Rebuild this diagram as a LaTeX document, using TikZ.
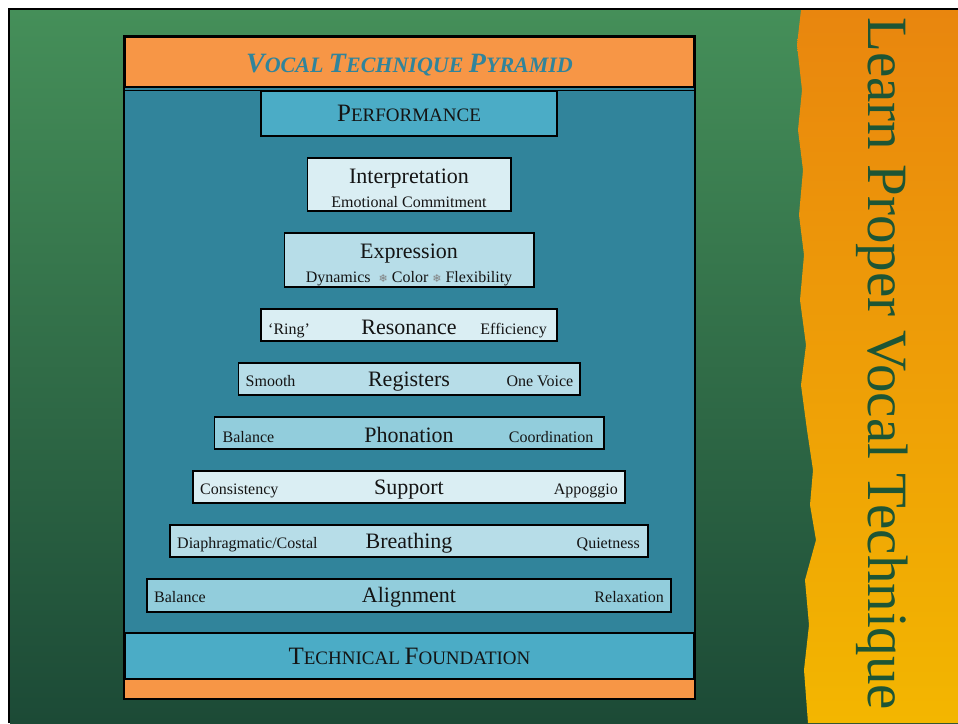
\documentclass[tikz,border=0pt]{standalone}
\usepackage{fontspec}
\setmainfont{Liberation Serif}
\newfontfamily\symfont{DejaVu Sans}
\usetikzlibrary{positioning}

\definecolor{slidetop}{HTML}{458F59}
\definecolor{slidebot}{HTML}{1C4A36}
\definecolor{stripetop}{HTML}{E9860E}
\definecolor{stripebot}{HTML}{F3B600}
\definecolor{leafgreen}{HTML}{1D5535}
\definecolor{accent}{HTML}{F79646}
\definecolor{deepteal}{HTML}{31849B}
\definecolor{midteal}{HTML}{4BACC6}
\definecolor{paleA}{HTML}{DAEEF3}
\definecolor{paleB}{HTML}{B7DDE8}
\definecolor{paleC}{HTML}{92CDDC}
\definecolor{ink}{HTML}{141414}

\newcommand{\tierfont}{\fontsize{22}{24}\selectfont}
\newcommand{\notefont}{\fontsize{16}{18}\selectfont}
\newcommand{\capsc}[2]{{\fontsize{25}{28}\selectfont #1}{\fontsize{19}{22}\selectfont #2}}
\newcommand{\titlesc}[2]{{\fontsize{28}{30}\selectfont #1}{\fontsize{22}{24}\selectfont #2}}
\newcommand{\flake}{{\symfont\color{gray}\fontsize{11}{11}\selectfont ❄}}

\tikzset{
	tier/.style={draw=black, line width=1.6pt, inner sep=0pt, text=ink, font=\tierfont, minimum height=32.4pt},
	note/.style={inner sep=0pt, text=ink, font=\notefont},
	band/.style={draw=black, line width=1.6pt, inner sep=0pt, text=ink, minimum width=569.4pt},
}

\begin{document}
\begin{tikzpicture}[x=1pt, y=-1pt, node distance=20pt]
	\useasboundingbox (0,0) rectangle (958,723);
	\fill[white] (0,0) rectangle (958,723);
	\shade[top color=slidetop, bottom color=slidebot] (10,10) rectangle (958,723);
	\shade[top color=stripetop, bottom color=stripebot]
		(801,10) -- (797,45) -- (802,90) -- (798,130) -- (803,170) -- (799,215) -- (804,255)
		-- (800,300) -- (806,345) -- (801,385) -- (807,430) -- (813,470) -- (810,505)
		-- (816,540) -- (805,580) -- (809,625) -- (804,670) -- (808,723) -- (958,723) -- (958,10) -- cycle;
	\draw[line width=2pt] (9,723) -- (9,9) -- (958,9);

	\node[rotate=-90, anchor=base west, inner sep=0pt, text=leafgreen,
		font=\fontsize{57}{60}\selectfont] (motto) at (868,17) {Learn Proper Vocal Technique};

	\fill[deepteal] (124,88) rectangle (695,632);
	\node[band, fill=accent, minimum height=50.4pt, text=deepteal, font=\bfseries\itshape] (title)
		at (409.5,62) {\rule{0pt}{24pt}\titlesc{V}{OCAL\ }\titlesc{T}{ECHNIQUE\ }\titlesc{P}{YRAMID}};
	\draw[line width=1pt] (124,90) -- (695,90);

	\node[tier, fill=midteal, minimum width=296.4pt, minimum height=45.4pt] (perf) at (409,113.5) {\capsc{P}{ERFORMANCE}};
	\node[tier, fill=paleA, minimum width=203.4pt, minimum height=53.4pt, align=center,
		below=of perf] (interp) {\rule{0pt}{22pt}Interpretation\\{\notefont Emotional Commitment}};
	\node[tier, fill=paleB, minimum width=249.4pt, minimum height=54.4pt, align=center,
		below=of interp] (expr) {\rule{0pt}{25pt}Expression\\{\notefont Dynamics \ \flake\ Color \flake\ Flexibility}};
	\node[tier, fill=paleA, minimum width=296.4pt, below=of expr] (reson) {\rule{0pt}{19pt}Resonance};
	\node[tier, fill=paleB, minimum width=341.4pt, below=of reson] (regis) {\rule{0pt}{19pt}Registers};
	\node[tier, fill=paleC, minimum width=389.4pt, below=of regis] (phon) {\rule{0pt}{19pt}Phonation};
	\node[tier, fill=paleA, minimum width=432.4pt, below=of phon] (supp) {\rule{0pt}{19pt}Support};
	\node[tier, fill=paleB, minimum width=478.4pt, below=of supp] (breath) {\rule{0pt}{19pt}Breathing};
	\node[tier, fill=paleC, minimum width=524.4pt, minimum height=33.4pt, below=of breath] (align) {\rule{0pt}{19pt}Alignment};

	\node[note, right=8pt of reson.base west, anchor=base west] (reson-l) {`Ring'};
	\node[note, left=11pt of reson.base east, anchor=base east] (reson-r) {Efficiency};
	\node[note, right=8pt of regis.base west, anchor=base west] (regis-l) {Smooth};
	\node[note, left=7pt of regis.base east, anchor=base east] (regis-r) {One Voice};
	\node[note, right=9pt of phon.base west, anchor=base west] (phon-l) {Balance};
	\node[note, left=11pt of phon.base east, anchor=base east] (phon-r) {Coordination};
	\node[note, right=8pt of supp.base west, anchor=base west] (supp-l) {Consistency};
	\node[note, left=8pt of supp.base east, anchor=base east] (supp-r) {Appoggio};
	\node[note, right=8pt of breath.base west, anchor=base west] (breath-l) {Diaphragmatic/Costal};
	\node[note, left=9pt of breath.base east, anchor=base east] (breath-r) {Quietness};
	\node[note, right=8pt of align.base west, anchor=base west] (align-l) {Balance};
	\node[note, left=8pt of align.base east, anchor=base east] (align-r) {Relaxation};

	\node[band, fill=midteal, minimum height=46.4pt] (found) at (409.5,656) {\capsc{T}{ECHNICAL\ }\capsc{F}{OUNDATION}};
	\fill[accent] (124,680) rectangle (695,699);
	\draw[line width=2pt] (124,36) rectangle (695,699);
\end{tikzpicture}
\end{document}
